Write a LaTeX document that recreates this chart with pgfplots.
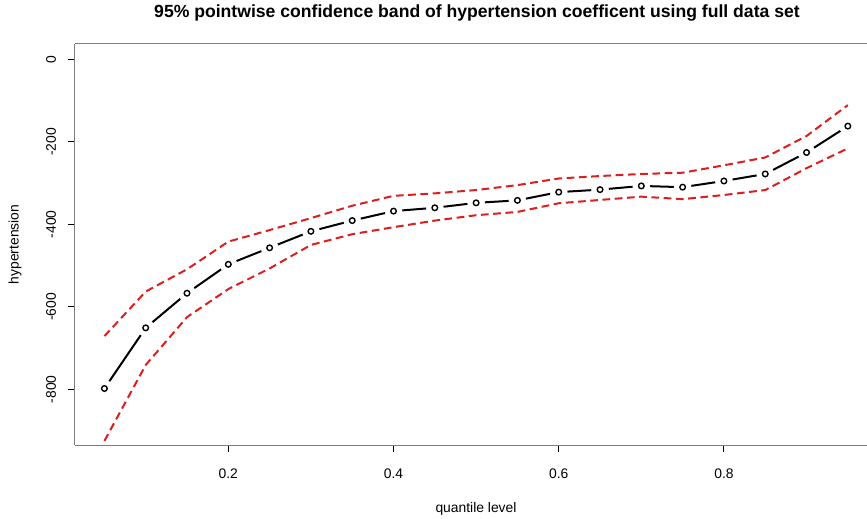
\documentclass[border=0pt]{standalone}
\usepackage{fontspec}
\setmainfont{Liberation Sans}
\usepackage{pgfplots}
\usepackage{pgfplotstable}
\pgfplotsset{compat=1.18}

\definecolor{bandred}{RGB}{220,30,30}
\definecolor{boxgray}{RGB}{125,125,125}

% quantile-regression coefficient of hypertension with its 95% pointwise band
\pgfplotstableread{
q     mean   upper  lower
0.05  -798   -671   -925
0.10  -651   -563   -741
0.15  -567   -509   -625
0.20  -497   -442   -557
0.25  -457   -414   -507
0.30  -417   -385   -450
0.35  -391   -355   -424
0.40  -368   -331   -407
0.45  -360   -325   -391
0.50  -348   -317   -378
0.55  -342   -305   -370
0.60  -322   -289   -349
0.65  -316   -283   -341
0.70  -307   -278   -333
0.75  -310   -275   -339
0.80  -295   -257   -329
0.85  -278   -238   -317
0.90  -226   -186   -264
0.95  -162   -111   -216
}\coef

\begin{document}
\begin{tikzpicture}
\useasboundingbox (-56.0pt,-54.75pt) rectangle (594.2pt,333.75pt);
\begin{axis}[
  at={(0,0)}, anchor=south west,
  scale only axis, width=594.2pt, height=300.75pt,
  xmin=0.014, xmax=0.9732, ymin=-935, ymax=37,
  axis x line=box, axis y line=left,
  axis line style={-, boxgray, line width=0.75pt},
  xtick={0.2,0.4,0.6,0.8}, xticklabels={0.2,0.4,0.6,0.8},
  ytick={-800,-600,-400,-200,0}, yticklabels={-800,-600,-400,-200,0},
  xtick pos=left, ytick pos=left,
  tick align=outside, major tick length=5.25pt,
  tick style={black, line width=0.75pt},
  minor tick num=0,
  tick label style={font=\fontsize{10.4}{12}\selectfont},
  yticklabel style={rotate=90, anchor=center, yshift=12.5pt},
  xticklabel style={anchor=center, yshift=-16.5pt},
  xlabel={quantile level}, ylabel={hypertension},
  label style={font=\fontsize{10.4}{12}\selectfont},
  xlabel style={at={(axis description cs:0.5065,0)}, anchor=center, yshift=-48pt},
  ylabel style={at={(axis description cs:0,0.5)}, anchor=center, yshift=44.8pt},
]
% estimate joined by a solid line
\addplot[black, line width=1.5pt, no markers] table[x=q, y=mean] {\coef};
% white halo leaves the gaps around each point
\addplot[white, only marks, mark=*, mark size=6.4pt] table[x=q, y=mean] {\coef};
\addplot[black, only marks, mark=o, mark size=2.1pt, mark options={line width=1.05pt, fill=white}] table[x=q, y=mean] {\coef};
% pointwise band
\addplot[bandred, line width=1.5pt, dash pattern=on 5.8pt off 3.4pt, no markers] table[x=q, y=upper] {\coef};
\addplot[bandred, line width=1.5pt, dash pattern=on 5.8pt off 3.4pt, no markers] table[x=q, y=lower] {\coef};
\end{axis}
\node[font=\bfseries\fontsize{13.2}{15}\selectfont] at (301.7pt,324pt)
  {95\% pointwise confidence band of hypertension coefficent using full data set};
\end{tikzpicture}
\end{document}
